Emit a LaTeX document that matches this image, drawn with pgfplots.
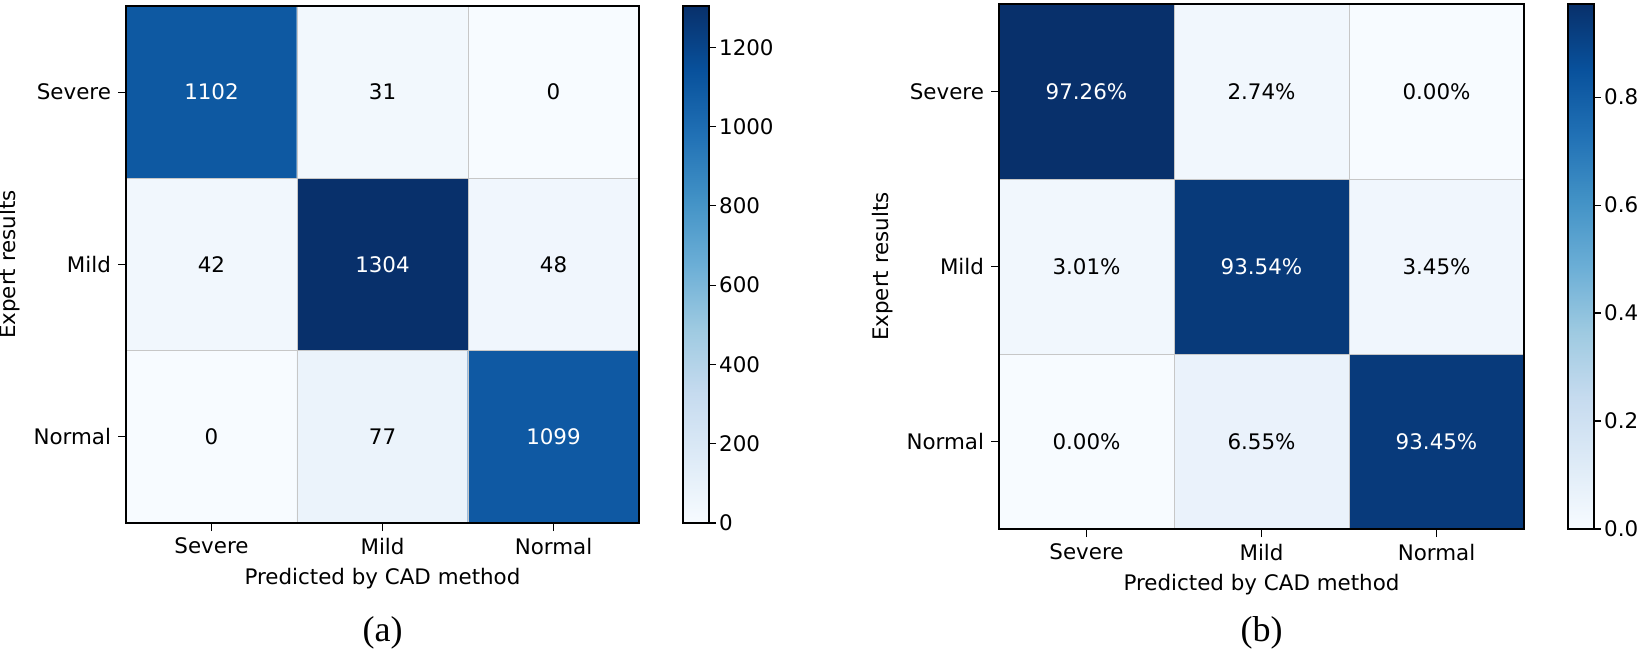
\documentclass[border=0pt]{standalone}
\usepackage{fontspec}
\setmainfont{DejaVu Sans}
\newfontfamily\capfont{Liberation Serif}
\usepackage{pgfplots}
\pgfplotsset{compat=1.18}

\newcommand{\lblfont}{\fontsize{10.7}{12}\selectfont}

\pgfplotsset{
  colormap={blues}{rgb255=(247,251,255) rgb255=(222,235,247) rgb255=(198,219,239)
    rgb255=(158,202,225) rgb255=(107,174,214) rgb255=(66,146,198) rgb255=(33,113,181)
    rgb255=(8,81,156) rgb255=(8,48,107)},
  confmat/.style={
    colormap name=blues,
    scale only axis,
    enlargelimits=false,
    xmin=-0.5, xmax=2.5, ymin=-0.5, ymax=2.5,
    y dir=reverse,
    xtick={0,1,2}, ytick={0,1,2},
    xticklabels={Severe,Mild,Normal},
    yticklabels={Severe,Mild,Normal},
    minor xtick={0.5,1.5}, minor ytick={0.5,1.5},
    minor tick length=0pt,
    xminorgrids, yminorgrids,
    minor grid style={black!22, line width=0.5pt},
    tick align=outside,
    major tick length=4pt,
    xtick pos=bottom, ytick pos=left,
    axis on top,
    axis line style={line width=0.9pt},
    major tick style={line width=0.6pt, black},
    label style={font=\lblfont},
    tick label style={font=\lblfont},
    xlabel={Predicted by CAD method},
    ylabel={Expert results},
    /pgf/number format/assume math mode=true,
    colorbar,
    colorbar style={
      scale only axis,
      width=13pt,
      % the default colorbar style already shifts by 0.3cm
      at={(parent axis.north east)}, anchor=north west, xshift=13.5pt,
      tick align=outside, major tick length=3.5pt,
      ytick pos=right, yticklabel pos=right,
      axis line style={line width=0.9pt},
      major tick style={line width=0.6pt, black},
      tick label style={font=\lblfont},
      yticklabel style={xshift=-2pt},
      /pgf/number format/assume math mode=true,
      /pgf/number format/1000 sep={},
    },
  },
  celltext/.style={only marks, mark=none, nodes near coords,
    point meta=explicit symbolic,
    nodes near coords style={text=#1, anchor=center, font=\lblfont}},
}

\begin{document}
\begin{tikzpicture}
\useasboundingbox (0,0) rectangle (826pt,330pt);

% (a) counts
\begin{axis}[confmat, name=a,
  at={(63pt,68.5pt)}, anchor=south west,
  width=256.5pt, height=258.5pt,
  point meta min=0, point meta max=1304,
  colorbar style={ytick={0,200,400,600,800,1000,1200}}]
\addplot[matrix plot*, mesh/cols=3, point meta=explicit] table[meta=c] {
x y c
0 0 1102
1 0 31
2 0 0
0 1 42
1 1 1304
2 1 48
0 2 0
1 2 77
2 2 1099
};
\addplot[celltext=white] table[meta=l] {
x y l
0 0 1102
1 1 1304
2 2 1099
};
\addplot[celltext=black] table[meta=l] {
x y l
1 0 31
2 0 0
0 1 42
2 1 48
0 2 0
1 2 77
};
\end{axis}

% (b) row-normalised
\begin{axis}[confmat, name=b,
  at={(499.5pt,65.5pt)}, anchor=south west,
  width=262.5pt, height=262.5pt,
  point meta min=0, point meta max=0.9726,
  colorbar style={ytick={0,0.2,0.4,0.6,0.8},
    yticklabel style={/pgf/number format/.cd, fixed, fixed zerofill, precision=1}}]
\addplot[matrix plot*, mesh/cols=3, point meta=explicit] table[meta=c] {
x y c
0 0 0.9726
1 0 0.0274
2 0 0.0000
0 1 0.0301
1 1 0.9354
2 1 0.0345
0 2 0.0000
1 2 0.0655
2 2 0.9345
};
\addplot[celltext=white] table[meta=l] {
x y l
0 0 97.26\%
1 1 93.54\%
2 2 93.45\%
};
\addplot[celltext=black] table[meta=l] {
x y l
1 0 2.74\%
2 0 0.00\%
0 1 3.01\%
2 1 3.45\%
0 2 0.00\%
1 2 6.55\%
};
\end{axis}

\node[font=\capfont\fontsize{18}{20}\selectfont] at ([yshift=-55pt]a.south) {(a)};
\node[font=\capfont\fontsize{18}{20}\selectfont] at ([yshift=-52pt]b.south) {(b)};
\end{tikzpicture}
\end{document}
